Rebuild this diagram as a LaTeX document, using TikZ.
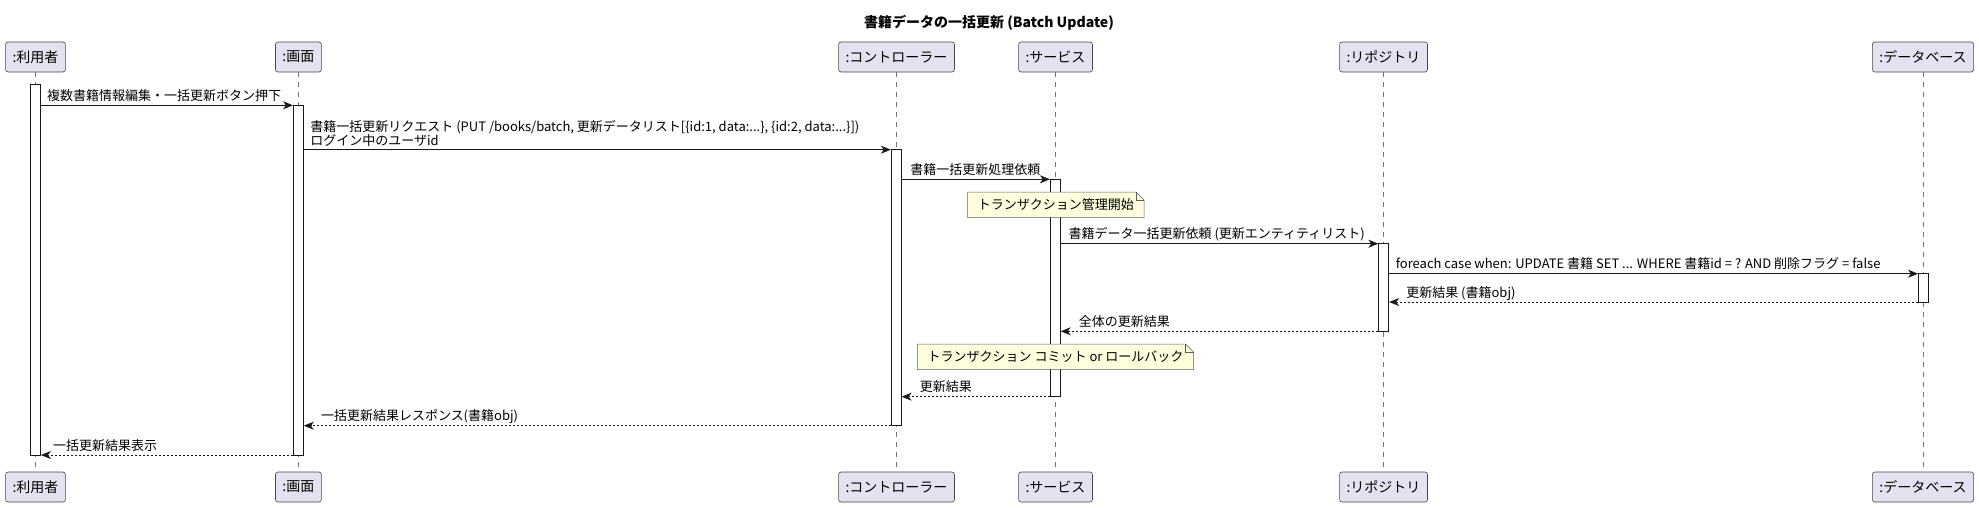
\documentclass[tikz,border=0pt]{standalone}
\usepackage{fontspec}
\setmainfont{Noto Sans CJK JP}
\usetikzlibrary{arrows.meta}

\definecolor{partfill}{HTML}{E2E2F0}
\definecolor{notefill}{HTML}{FEFFDD}
\definecolor{umlline}{HTML}{181818}

\tikzset{
    part/.style={rectangle, rounded corners=2.5pt, draw=umlline!80, fill=partfill,
        line width=0.6pt, minimum height=30pt, inner xsep=7pt,
        font=\fontsize{14}{16}\selectfont},
    life/.style={draw=umlline!60, line width=0.5pt, dash pattern=on 5pt off 5pt},
    act/.style={rectangle, draw=umlline, fill=white, line width=0.8pt,
        minimum width=10pt, inner sep=0pt},
    msg/.style={draw=umlline, line width=0.8pt,
        -{Stealth[length=10pt,width=8pt,inset=3pt]}},
    ret/.style={msg, dash pattern=on 2pt off 2pt},
    lbl/.style={anchor=base west, inner sep=0pt, font=\fontsize{13}{14}\selectfont},
    note/.style={fill=notefill, inner xsep=10pt, inner ysep=0pt, minimum height=25pt,
        font=\fontsize{13}{15}\selectfont},
    noteline/.style={draw=umlline!70, line width=0.5pt}
}

\begin{document}
\begin{tikzpicture}[x=1pt, y=-1pt]
    \useasboundingbox (0,0) rectangle (1979,507);

    \node[font=\bfseries\fontsize{14}{16}\selectfont] (title) at (989,23) {書籍データの一括更新 (Batch Update)};

    % participants, top and bottom
    \foreach \name/\x/\txt in {user/35.5/:利用者, screen/298.4/:画面, ctrl/896.5/:コントローラー,
        svc/1055.5/:サービス, repo/1383.5/:リポジトリ, db/1923/:データベース} {
        \node[part] (\name) at (\x,57) {\txt};
        \node[part] (\name-b) at (\x,487) {\txt};
        \draw[life] (\name.south) -- (\name-b.north);
    }

    % activation bars
    \node[act, minimum height=371pt] (aUser) at (35.5,269.5) {};
    \node[act, minimum height=349.7pt] (aScreen) at (298.4,280.15) {};
    \node[act, minimum height=276pt] (aCtrl) at (896.2,287.7) {};
    \node[act, minimum height=217.4pt] (aSvc) at (1055.3,288) {};
    \node[act, minimum height=87.6pt] (aRepo) at (1383.7,287.5) {};
    \node[act, minimum height=28.3pt] (aDb) at (1923.4,287.85) {};

    % messages
    \draw[msg] (aUser.east |- 0,105.3) -- (aScreen.west |- 0,105.3);
    \node[lbl] (m1) at ([xshift=6pt]aUser.east |- 0,100.3) {複数書籍情報編集・一括更新ボタン押下};

    \draw[msg] (aScreen.east |- 0,149.7) -- (aCtrl.west |- 0,149.7);
    \node[lbl, anchor=south west, align=left] (m2) at ([xshift=6.4pt]aScreen.east |- 0,146.3)
        {書籍一括更新リクエスト (PUT /books/batch, 更新データリスト[\{id:1, data:...\}, \{id:2, data:...\}])\\ログイン中のユーザid};

    \draw[msg] (aCtrl.east |- 0,179.3) -- (aSvc.west |- 0,179.3);
    \node[lbl] (m3) at ([xshift=8.5pt]aCtrl.east |- 0,174.3) {書籍一括更新処理依頼};

    \node[note] (n1) at (1055.8,204.8) {トランザクション管理開始};
    \fill[white] ([xshift=-8pt]n1.north east) -- (n1.north east) -- ([yshift=-8pt]n1.north east) -- cycle;
    \draw[noteline] (n1.south west) -- (n1.north west) -- ([xshift=-8pt]n1.north east)
        -- ([yshift=-8pt]n1.north east) -- (n1.south east) -- cycle;
    \draw[noteline] ([xshift=-8pt]n1.north east) |- ([yshift=-8pt]n1.north east);

    \draw[msg] (aSvc.east |- 0,243.7) -- (aRepo.west |- 0,243.7);
    \node[lbl] (m4) at ([xshift=7.7pt]aSvc.east |- 0,238.7) {書籍データ一括更新依頼 (更新エンティティリスト)};

    \draw[msg] (aRepo.east |- 0,273.7) -- (aDb.west |- 0,273.7);
    \node[lbl] (m5) at ([xshift=6.5pt]aRepo.east |- 0,268.7) {foreach case when: UPDATE 書籍 SET ... WHERE 書籍id = ? AND 削除フラグ = false};

    \draw[ret] (aDb.west |- 0,302) -- (aRepo.east |- 0,302);
    \node[lbl] (m6) at ([xshift=17pt]aRepo.east |- 0,297) {更新結果 (書籍obj)};

    \draw[ret] (aRepo.west |- 0,331.3) -- (aSvc.east |- 0,331.3);
    \node[lbl] (m7) at ([xshift=18pt]aSvc.east |- 0,326.3) {全体の更新結果};

    \node[note] (n2) at (1055.5,356.8) {トランザクション コミット or ロールバック};
    \fill[white] ([xshift=-8pt]n2.north east) -- (n2.north east) -- ([yshift=-8pt]n2.north east) -- cycle;
    \draw[noteline] (n2.south west) -- (n2.north west) -- ([xshift=-8pt]n2.north east)
        -- ([yshift=-8pt]n2.north east) -- (n2.south east) -- cycle;
    \draw[noteline] ([xshift=-8pt]n2.north east) |- ([yshift=-8pt]n2.north east);

    \draw[ret] (aSvc.west |- 0,396.7) -- (aCtrl.east |- 0,396.7);
    \node[lbl] (m8) at ([xshift=18pt]aCtrl.east |- 0,391.7) {更新結果};

    \draw[ret] (aCtrl.west |- 0,425.7) -- (aScreen.east |- 0,425.7);
    \node[lbl] (m9) at ([xshift=17pt]aScreen.east |- 0,420.7) {一括更新結果レスポンス(書籍obj)};

    \draw[ret] (aScreen.west |- 0,455) -- (aUser.east |- 0,455);
    \node[lbl] (m10) at ([xshift=12pt]aUser.east |- 0,450) {一括更新結果表示};
\end{tikzpicture}
\end{document}
